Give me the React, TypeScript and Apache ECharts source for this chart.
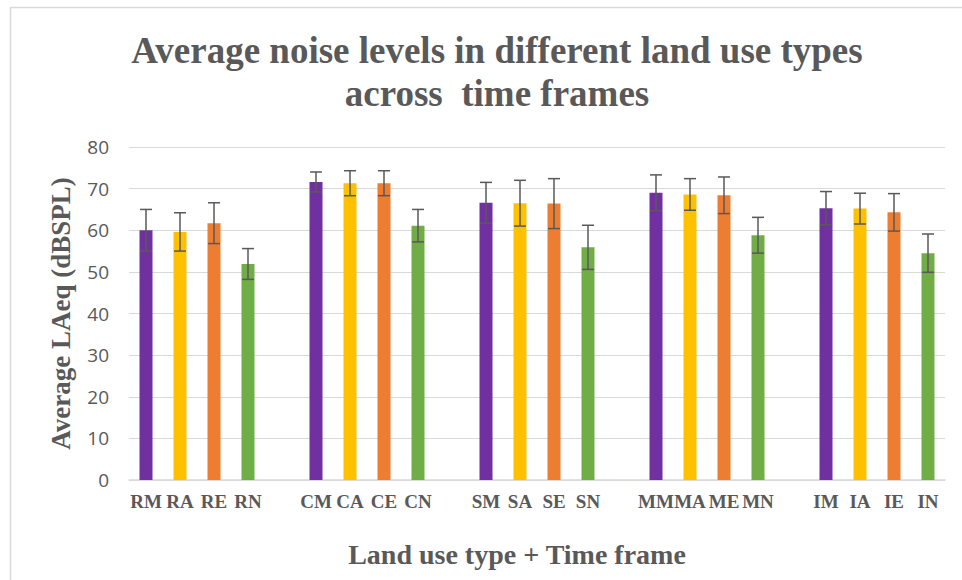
import React, { useEffect, useRef } from "react";
import * as echarts from "echarts";

const categories = [
  "RM", "RA", "RE", "RN", "",
  "CM", "CA", "CE", "CN", "",
  "SM", "SA", "SE", "SN", "",
  "MM", "MA", "ME", "MN", "",
  "IM", "IA", "IE", "IN",
];
const meanValues: (number | null)[] = [
  60.0, 59.6, 61.7, 51.9, null,
  71.6, 71.3, 71.3, 61.1, null,
  66.6, 66.5, 66.4, 55.9, null,
  69.0, 68.6, 68.4, 58.8, null,
  65.3, 65.2, 64.3, 54.5,
];
const errorValues: (number | null)[] = [
  5.0, 4.6, 4.9, 3.7, null,
  2.4, 3.0, 3.0, 3.9, null,
  4.9, 5.5, 6.0, 5.3, null,
  4.3, 3.8, 4.4, 4.3, null,
  4.0, 3.7, 4.5, 4.6,
];
const timeFrameColors = ["#7030A0", "#FFC000", "#ED7D31", "#70AD47"];
const yTicks = { min: 0, max: 80, interval: 10 };

export default function App() {
  const ref = useRef<HTMLDivElement>(null);
  useEffect(() => {
    if (!ref.current) return;
    const chart = echarts.init(ref.current, null, { renderer: "svg" });
    const barData = meanValues.map((v, i) => {
      if (v === null) return null;
      const tf = i % 5;
      return { value: v, itemStyle: { color: timeFrameColors[tf] } };
    });
    const errData: number[][] = [];
    meanValues.forEach((v, i) => {
      const e = errorValues[i];
      if (v !== null && e !== null) errData.push([i, v - e, v + e]);
    });
    chart.setOption({
      animation: false,
      backgroundColor: "#ffffff",
      title: {
        text: "Average noise levels in different land use types\nacross  time frames",
        left: 492,
        textAlign: "center",
        top: 24,
        textStyle: {
          fontFamily: "Liberation Serif",
          fontWeight: "bold",
          fontSize: 37,
          color: "#595959",
          lineHeight: 43,
        },
      },
      graphic: [
        {
          type: "rect",
          shape: { x: 10.5, y: 7.5, width: 1000, height: 700 },
          style: { fill: "none", stroke: "#D9D9D9", lineWidth: 1.5 },
          silent: true,
        },
      ],
      grid: { left: 129, right: 17, top: 147, bottom: 100, containLabel: false },
      xAxis: {
        type: "category",
        data: categories,
        axisTick: { show: false },
        axisLine: { lineStyle: { color: "#D9D9D9", width: 1.5 } },
        axisLabel: {
          interval: 0,
          fontFamily: "Liberation Serif",
          fontWeight: "bold",
          fontSize: 19,
          color: "#595959",
          margin: 12,
        },
        name: "Land use type + Time frame",
        nameLocation: "middle",
        nameGap: 60,
        nameTextStyle: {
          fontFamily: "Liberation Serif",
          fontWeight: "bold",
          fontSize: 28,
          color: "#595959",
          padding: [0, 40, 0, 0],
        },
      },
      yAxis: {
        type: "value",
        min: yTicks.min,
        max: yTicks.max,
        interval: yTicks.interval,
        axisLine: { show: false },
        axisTick: { show: false },
        splitLine: { lineStyle: { color: "#D9D9D9", width: 1.2 } },
        axisLabel: {
          fontFamily: "Open Sans",
          fontSize: 19,
          color: "#595959",
          margin: 20,
        },
        name: "Average LAeq (dBSPL)",
        nameLocation: "middle",
        nameGap: 55,
        nameTextStyle: {
          fontFamily: "Liberation Serif",
          fontWeight: "bold",
          fontSize: 27,
          color: "#595959",
        },
      },
      series: [
        {
          type: "bar",
          data: barData,
          barWidth: 13,
        },
        {
          type: "custom",
          data: errData,
          z: 10,
          renderItem: (params: any, api: any) => {
            const x = api.value(0);
            const low = api.coord([x, api.value(1)]);
            const high = api.coord([x, api.value(2)]);
            const half = 6;
            const style = { stroke: "#595959", lineWidth: 1.5 };
            return {
              type: "group",
              children: [
                { type: "line", shape: { x1: high[0], y1: high[1], x2: low[0], y2: low[1] }, style },
                { type: "line", shape: { x1: high[0] - half, y1: high[1], x2: high[0] + half, y2: high[1] }, style },
                { type: "line", shape: { x1: low[0] - half, y1: low[1], x2: low[0] + half, y2: low[1] }, style },
              ],
            };
          },
        },
      ],
    });
    return () => chart.dispose();
  }, []);
  return (
    <div
      ref={ref}
      style={{ position: "fixed", left: 0, top: 0, width: 962, height: 580 }}
    />
  );
}
